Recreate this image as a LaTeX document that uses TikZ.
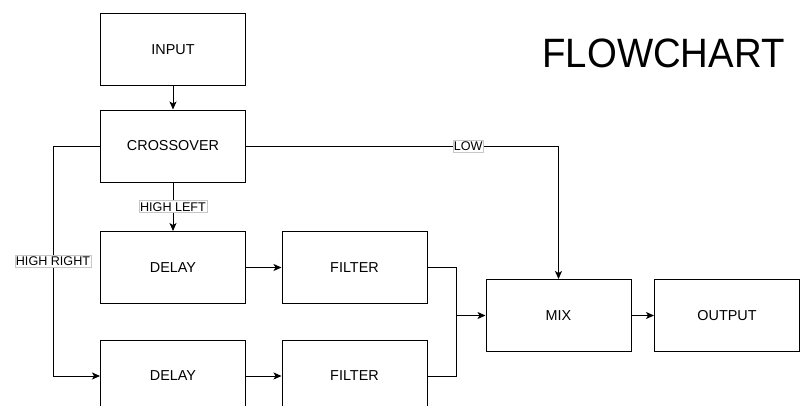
\documentclass[tikz,border=0pt]{standalone}
\usepackage{fontspec}
\setmainfont{Liberation Sans}
\usetikzlibrary{arrows.meta}
\begin{document}
\begin{tikzpicture}[x=1pt,y=-1pt,
  box/.style={draw=black,line width=1pt,minimum width=145pt,minimum height=72pt,inner sep=0pt,font=\fontsize{14.4}{16}\selectfont},
  conn/.style={line width=1pt},
  arr/.style={conn,-{Stealth[length=8pt,width=7pt,inset=2pt]}},
  lbl/.style={draw=black!22,fill=white,line width=0.6pt,inner xsep=1pt,inner ysep=1.5pt,font=\fontsize{12.6}{14}\selectfont}]
\path[use as bounding box,fill=white] (0,0) rectangle (800,405);
\clip (0,0) rectangle (800,405);
\node[box] (input) at (173,49.5) {INPUT};
\node[box] (cross) at (173,146) {CROSSOVER};
\node[box] (delay1) at (173,267.5) {DELAY};
\node[box] (filter1) at (354.5,267.5) {FILTER};
\node[box] (delay2) at (173,376) {DELAY};
\node[box] (filter2) at (354.5,376) {FILTER};
\node[box] (mix) at (558.5,315.5) {MIX};
\node[box] (output) at (727,315.5) {OUTPUT};
\node[anchor=base,font=\fontsize{41}{45}\selectfont] (title) at (663.5,67) {\scalebox{0.935}[1]{FLOWCHART}};
\coordinate (hr) at (53,146);
\coordinate (lowc) at (558.5,146);
\coordinate (j) at (456,315.5);
\draw[arr] (input) -- (cross);
\draw[arr] (cross) -- node[lbl] (hl) {HIGH LEFT} (delay1);
\draw[arr] (cross.west) -- (hr) |- node[lbl,pos=0.25] (hrl) {HIGH RIGHT} (delay2.west);
\draw[arr] (cross.east) -- node[lbl,pos=0.711] (low) {LOW} (lowc) -- (mix.north);
\draw[arr] (delay1) -- (filter1);
\draw[arr] (delay2) -- (filter2);
\draw[conn] (filter1.east) -| (j);
\draw[conn] (filter2.east) -| (j);
\draw[arr] (j) -- (mix.west);
\draw[arr] (mix) -- (output);
\end{tikzpicture}
\end{document}
